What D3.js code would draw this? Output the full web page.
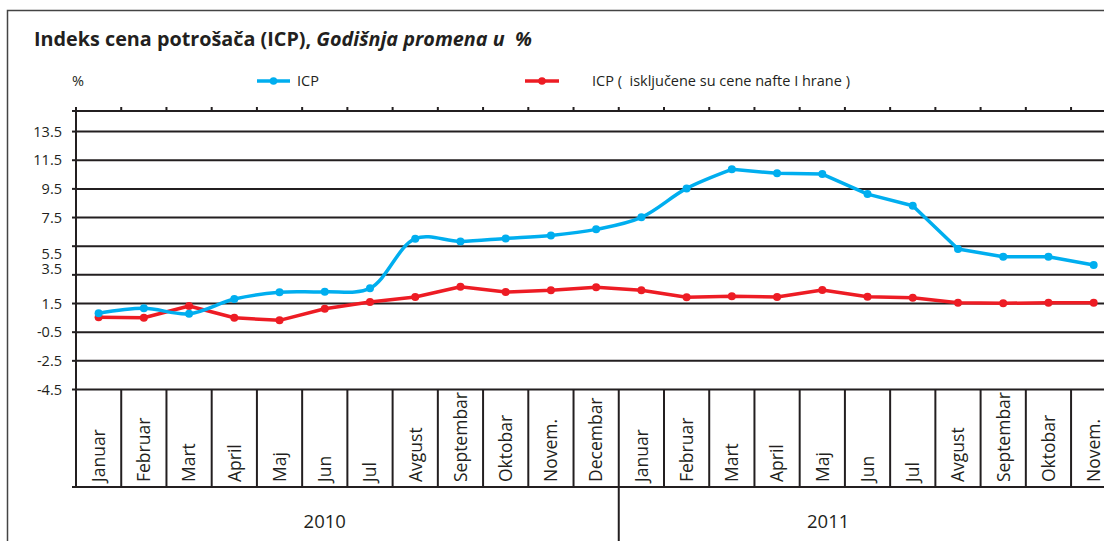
<!DOCTYPE html>
<html><head><meta charset="utf-8">
<script src="https://cdn.jsdelivr.net/npm/d3@7"></script>
<style>
body{margin:0;background:#fff}
svg{display:block}
text{font-family:"Open Sans",sans-serif;fill:#231f20}
</style>
</head><body>
<svg id="c" width="1104" height="541"></svg>
<script>
// ---- data ----
const months2010 = ["Januar","Februar","Mart","April","Maj","Jun","Jul","Avgust","Septembar","Oktobar","Novem.","Decembar"];
const months2011 = ["Januar","Februar","Mart","April","Maj","Jun","Jul","Avgust","Septembar","Oktobar","Novem."];
const years = ["2010","2011"];
const icp = [0.78,1.13,0.75,1.78,2.25,2.29,2.53,5.99,5.80,6.01,6.22,6.64,
             7.48,9.50,10.83,10.55,10.50,9.10,8.29,5.27,4.73,4.73,4.15];
const icpCore = [0.50,0.47,1.29,0.47,0.29,1.10,1.57,1.92,2.64,2.27,2.39,2.60,
                 2.39,1.90,1.97,1.92,2.41,1.94,1.87,1.52,1.48,1.52,1.52];
const yTicks = [13.5,11.5,9.5,7.5,5.5,3.5,1.5,-0.5,-2.5,-4.5];
const seriesNames = ["ICP","ICP (  isključene su cene nafte I hrane )"];
const titleMain = "Indeks cena potrošača (ICP), ";
const titleItalic = "Godišnja promena u  %";
const unitLabel = "%";

// ---- layout ----
const W = 1104, H = 541;
const ink = "#231f20", blue = "#00aeef", red = "#ed1c24";
const plotLeft = 76, plotTop = 111, plotBottom = 389, catBottom = 487, bandW = 45.23;

const cats = [
  ...months2010.map(m => ({key: years[0] + "-" + m, label: m, year: years[0]})),
  ...months2011.map(m => ({key: years[1] + "-" + m, label: m, year: years[1]}))
];
const keys = cats.map(c => c.key);

const x = d3.scaleBand().domain(keys).range([plotLeft, plotLeft + keys.length * bandW]).padding(0);
const y = d3.scaleLinear().domain([-4.5, 14.9]).range([plotBottom, plotTop]);
const cx = k => x(k) + x.bandwidth() / 2;

const svg = d3.select("#c");

// outer frame
svg.append("path").attr("d", `M7.5,${H} V10.5 H${W}`).attr("fill", "none")
  .attr("stroke", "#444").attr("stroke-width", 1.5);

// title
const title = svg.append("text").attr("x", 34).attr("y", 46)
  .attr("font-size", 19.8).attr("font-weight", 700).style("white-space", "pre");
title.append("tspan").text(titleMain);
title.append("tspan").attr("font-style", "italic").text(titleItalic);

// grid lines
svg.append("g").attr("transform", `translate(${plotLeft},0)`)
  .call(d3.axisLeft(y).tickValues(yTicks).tickSize(-(W - plotLeft)).tickFormat(""))
  .call(g => g.select(".domain").remove())
  .call(g => g.selectAll("line").attr("stroke", ink).attr("stroke-width", 2));

// y axis ticks + labels
const labelNudge = {"5.5": 8, "3.5": -6};
svg.append("g").attr("transform", `translate(${plotLeft},0)`)
  .call(d3.axisLeft(y).tickValues(yTicks).tickSize(4).tickPadding(10).tickFormat(d => d.toFixed(1)))
  .call(g => g.select(".domain").remove())
  .call(g => g.selectAll("line").attr("stroke", ink).attr("stroke-width", 2))
  .call(g => g.selectAll("text").attr("font-size", 14.5).attr("font-family", '"Open Sans",sans-serif')
      .attr("fill", ink).attr("dy", d => (labelNudge[d.toFixed(1)] || 0) + 5));

// top axis line with ticks at band boundaries
svg.append("line").attr("x1", plotLeft - 4).attr("x2", W).attr("y1", plotTop).attr("y2", plotTop)
  .attr("stroke", ink).attr("stroke-width", 2);
svg.append("g").selectAll("line").data(keys).join("line")
  .attr("x1", d => x(d)).attr("x2", d => x(d)).attr("y1", plotTop - 4).attr("y2", plotTop)
  .attr("stroke", ink).attr("stroke-width", 2);

// left axis line
svg.append("line").attr("x1", plotLeft).attr("x2", plotLeft).attr("y1", plotTop - 4).attr("y2", catBottom)
  .attr("stroke", ink).attr("stroke-width", 2);

// category boxes
svg.append("g").selectAll("line").data(keys).join("line")
  .attr("x1", d => x(d)).attr("x2", d => x(d)).attr("y1", y(-4.5)).attr("y2", catBottom)
  .attr("stroke", ink).attr("stroke-width", 2);
svg.append("line").attr("x1", plotLeft - 4).attr("x2", W).attr("y1", catBottom).attr("y2", catBottom)
  .attr("stroke", ink).attr("stroke-width", 2);
// year divider
const firstOf2011 = cats.find(c => c.year === years[1]).key;
svg.append("line").attr("x1", x(firstOf2011)).attr("x2", x(firstOf2011)).attr("y1", catBottom).attr("y2", H)
  .attr("stroke", ink).attr("stroke-width", 2);

// category labels
svg.append("g").selectAll("text").data(cats).join("text")
  .attr("transform", d => `translate(${cx(d.key)},482) rotate(-90)`)
  .attr("dy", "0.36em").attr("font-size", 17.5).text(d => d.label);

// year labels
const yearAnchor = {"2010": cx(years[0] + "-Jun"), "2011": x(years[1] + "-Maj") + x.bandwidth() * 0.63};
svg.append("g").selectAll("text").data(years).join("text")
  .attr("x", d => yearAnchor[d]).attr("y", 522).attr("dy", "0.35em")
  .attr("text-anchor", "middle").attr("font-size", 18.5).text(d => d);

// series
const smoothEnd = 14; // blue line is smoothed through March 2011
const pts = vals => vals.map((v, i) => [cx(keys[i]), y(v)]);
const bluePts = pts(icp), redPts = pts(icpCore);
const smooth = d3.line().curve(d3.curveCatmullRom.alpha(0.5));
const straight = d3.line();

svg.append("path").attr("d", straight(redPts)).attr("fill", "none")
  .attr("stroke", red).attr("stroke-width", 3.5).attr("stroke-linejoin", "round");
svg.append("g").selectAll("circle").data(redPts).join("circle")
  .attr("cx", d => d[0]).attr("cy", d => d[1]).attr("r", 4).attr("fill", red);

svg.append("path").attr("d", smooth(bluePts.slice(0, smoothEnd + 1)) + straight(bluePts.slice(smoothEnd)))
  .attr("fill", "none").attr("stroke", blue).attr("stroke-width", 3.5).attr("stroke-linejoin", "round");
svg.append("g").selectAll("circle").data(bluePts).join("circle")
  .attr("cx", d => d[0]).attr("cy", d => d[1]).attr("r", 4).attr("fill", blue);

// legend
svg.append("text").attr("x", 72).attr("y", 81).attr("dy", "0.35em").attr("font-size", 14.5).text(unitLabel);
const legend = [
  {name: seriesNames[0], color: blue, x1: 257, x2: 290, tx: 297},
  {name: seriesNames[1], color: red, x1: 525, x2: 559, tx: 592}
];
const lg = svg.append("g").selectAll("g").data(legend).join("g");
lg.append("line").attr("x1", d => d.x1).attr("x2", d => d.x2).attr("y1", 81).attr("y2", 81)
  .attr("stroke", d => d.color).attr("stroke-width", 3.5);
lg.append("circle").attr("cx", d => (d.x1 + d.x2) / 2).attr("cy", 81).attr("r", 3.8).attr("fill", d => d.color);
lg.append("text").attr("x", d => d.tx).attr("y", 81).attr("dy", "0.35em").attr("font-size", 14.5)
  .style("white-space", "pre").text(d => d.name);
</script>
</body></html>
